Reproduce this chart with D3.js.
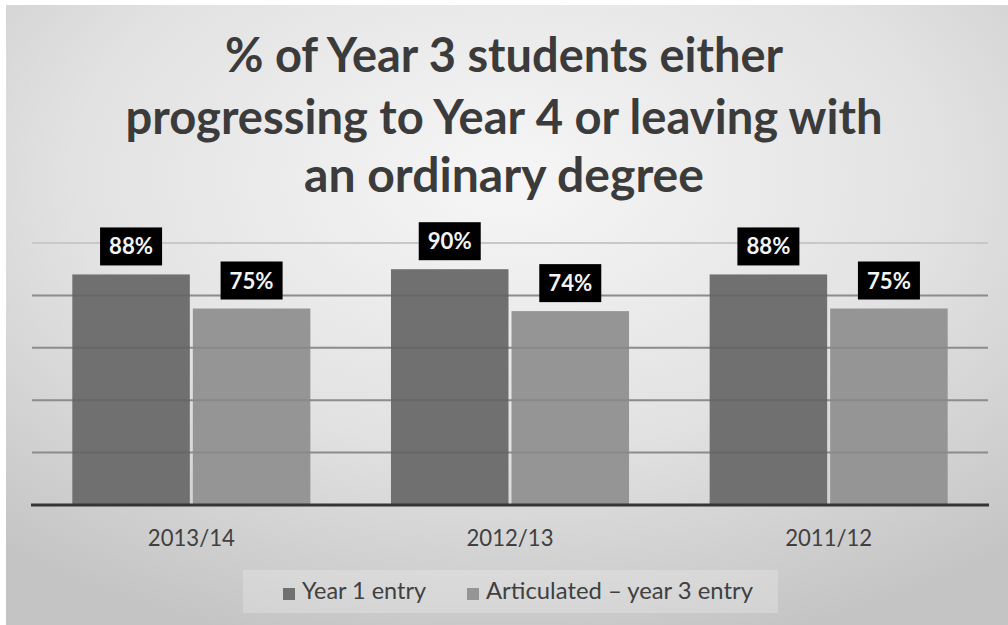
<!DOCTYPE html>
<html>
<head>
<meta charset="utf-8">
<title>Year 3 progression</title>
<script src="https://cdnjs.cloudflare.com/ajax/libs/d3/7.8.5/d3.min.js"></script>
<style>
  html, body { margin: 0; padding: 0; background: #fff; }
  svg { display: block; }
  text { font-family: Lato, "Open Sans", sans-serif; }
</style>
</head>
<body>
<script>
// data
const years = ["2013/14", "2012/13", "2011/12"];
const seriesNames = ["Year 1 entry", "Articulated \u2013 year 3 entry"];
const year1Entry = [0.88, 0.90, 0.88];
const articulated = [0.75, 0.74, 0.75];
const titleLines = ["% of Year 3 students either", "progressing to Year 4 or leaving with", "an ordinary degree"];
const gridTicks = [0.2, 0.4, 0.6, 0.8, 1.0];

const W = 1008, H = 625;
const colors = ["#707070", "#959595"];

const svg = d3.select("body").append("svg")
  .attr("width", W).attr("height", H);

// background with soft radial shading
const grad = svg.append("defs").append("radialGradient")
  .attr("id", "bg").attr("cx", "50%").attr("cy", "28%").attr("r", "78%");
grad.append("stop").attr("offset", "0%").attr("stop-color", "#f6f6f6");
grad.append("stop").attr("offset", "55%").attr("stop-color", "#e2e2e2");
grad.append("stop").attr("offset", "100%").attr("stop-color", "#c4c4c4");

svg.append("rect").attr("x", 6).attr("y", 5)
  .attr("width", W - 6).attr("height", H - 5)
  .attr("fill", "url(#bg)");

// title
const titleW = [558, 757, 400];
const titleY = [72, 134, 192];
svg.append("g").selectAll("text").data(titleLines).join("text")
  .attr("x", W / 2)
  .attr("y", (d, i) => titleY[i])
  .attr("text-anchor", "middle")
  .attr("font-size", 47)
  .attr("font-weight", "bold")
  .attr("fill", "#3b3b3b")
  .attr("textLength", (d, i) => titleW[i])
  .attr("lengthAdjust", "spacingAndGlyphs")
  .text(d => d);

// scales
const x0 = d3.scaleBand().domain(years).range([32, 988])
  .paddingInner(0.253).paddingOuter(0.1265);
const x1 = d3.scaleBand().domain(seriesNames).range([0, x0.bandwidth()])
  .paddingInner(0.025);
const y = d3.scaleLinear().domain([0, 1]).range([505, 243]);

// gridlines under bars
svg.append("g").selectAll("line").data(gridTicks).join("line")
  .attr("x1", 32).attr("x2", 988)
  .attr("y1", d => y(d)).attr("y2", d => y(d))
  .attr("stroke", d => d === 1 ? "#c8c8c8" : "#999")
  .attr("stroke-width", 2);

const rows = years.map((yr, i) => ({
  year: yr,
  vals: [year1Entry[i], articulated[i]]
}));

const groups = svg.append("g").selectAll("g").data(rows).join("g")
  .attr("transform", d => `translate(${x0(d.year)},0)`);

const cells = groups.selectAll("g")
  .data(d => d.vals.map((v, j) => ({ name: seriesNames[j], v: v, j: j })))
  .join("g");

cells.append("rect")
  .attr("x", d => x1(d.name))
  .attr("y", d => y(d.v))
  .attr("width", x1.bandwidth())
  .attr("height", d => y(0) - y(d.v))
  .attr("fill", d => colors[d.j]);

// faint gridlines showing through bars
svg.append("g").selectAll("line").data(gridTicks.filter(d => d < 1)).join("line")
  .attr("x1", 32).attr("x2", 988)
  .attr("y1", d => y(d)).attr("y2", d => y(d))
  .attr("stroke", "#000").attr("stroke-opacity", 0.08)
  .attr("stroke-width", 2);

// data labels in black boxes
const bw = 62, bh = 38;
cells.append("rect")
  .attr("x", d => x1(d.name) + x1.bandwidth() / 2 - bw / 2)
  .attr("y", d => y(d.v) - 9 - bh)
  .attr("width", bw).attr("height", bh)
  .attr("fill", "#000");
cells.append("text")
  .attr("x", d => x1(d.name) + x1.bandwidth() / 2)
  .attr("y", d => y(d.v) - 9 - bh / 2 + 8)
  .attr("text-anchor", "middle")
  .attr("font-size", 22)
  .attr("font-weight", "bold")
  .attr("fill", "#f4f4f4")
  .attr("textLength", 44)
  .attr("lengthAdjust", "spacingAndGlyphs")
  .text(d => d3.format(".0%")(d.v));

// baseline + category axis
const xAxis = svg.append("g")
  .attr("transform", `translate(0,${y(0)})`)
  .call(d3.axisBottom(x0).tickSize(0).tickPadding(24));
xAxis.select(".domain")
  .attr("d", "M31,0H989")
  .attr("stroke", "#353535").attr("stroke-width", 3);
xAxis.selectAll("text")
  .attr("font-family", "Lato, sans-serif")
  .attr("font-size", 24)
  .attr("fill", "#404040")
  .attr("textLength", 87)
  .attr("lengthAdjust", "spacingAndGlyphs");

// legend
const legend = svg.append("g");
legend.append("rect")
  .attr("x", 243).attr("y", 570).attr("width", 535).attr("height", 43)
  .attr("fill", "#ffffff").attr("fill-opacity", 0.22);
const legX = [283, 467];
const legW = [124, 267];
const items = legend.selectAll("g.item").data(seriesNames).join("g")
  .attr("class", "item")
  .attr("transform", (d, i) => `translate(${legX[i]},0)`);
items.append("rect")
  .attr("x", 0).attr("y", 588).attr("width", 12).attr("height", 12)
  .attr("fill", (d, i) => colors[i]);
items.append("text")
  .attr("x", 19).attr("y", 599)
  .attr("font-size", 23)
  .attr("fill", "#404040")
  .attr("textLength", (d, i) => legW[i])
  .attr("lengthAdjust", "spacingAndGlyphs")
  .text(d => d);
</script>
</body>
</html>
